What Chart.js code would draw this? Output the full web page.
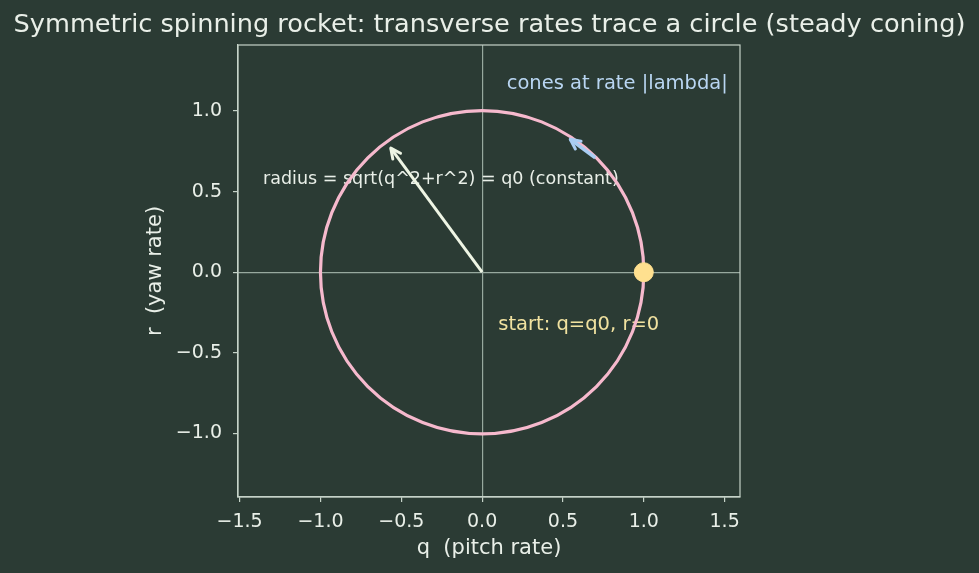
<!DOCTYPE html>
<html>
<head>
<meta charset="utf-8">
<script src="https://cdn.jsdelivr.net/npm/chart.js@4.4.1/dist/chart.umd.min.js"></script>
<style>
    html, body { margin: 0; padding: 0; background: #2b3b34; }
    #wrap { width: 979px; height: 573px; }
</style>
</head>
<body>
<div id="wrap"><canvas id="chart"></canvas></div>
<script>
// Datos de la figura
const q0 = 1.0;                                   // radio del circulo (q0)
const circleCenter = [{ x: 0, y: 0 }];
const startPoint = [{ x: q0, y: 0 }];
const radiusArrow = [{ x: 0, y: 0 }, { x: -0.565, y: 0.77 }];
const coneArrow = [{ x: 0.70, y: 0.71 }, { x: 0.545, y: 0.825 }];

const titleText = 'Symmetric spinning rocket: transverse rates trace a circle (steady coning)';
const xTitle = 'q  (pitch rate)';
const yTitle = 'r  (yaw rate)';
const notes = [
    { text: 'cones at rate |lambda|', x: 1.52, y: 1.17, align: 'right', color: '#b9d6f2', size: 19.5 },
    { text: 'radius = sqrt(q^2+r^2) = q0 (constant)', x: -1.355, y: 0.575, align: 'left', color: '#e9efe8', size: 17.5 },
    { text: 'start: q=q0, r=0', x: 0.10, y: -0.33, align: 'left', color: '#f1e2a0', size: 19.5 }
];

const FONT = "'DejaVu Sans', sans-serif";
const TEXT = '#e9efe8';
const SPINE = '#c5d3c8';

function fmt(v) {
    return v.toFixed(1).replace('-', '\u2212');
}

// Titulo centrado sobre todo el lienzo
const titlePlugin = {
    id: 'figTitle',
    afterDraw(chart) {
        const c = chart.ctx;
        c.save();
        c.fillStyle = TEXT;
        c.font = '25.6px ' + FONT;
        c.textAlign = 'center';
        c.textBaseline = 'middle';
        c.fillText(titleText, chart.width / 2, 25);
        c.restore();
    }
};

// Textos (debajo de las lineas) y marco de ejes
const notesPlugin = {
    id: 'notes',
    beforeDatasetsDraw(chart) {
        const c = chart.ctx, xs = chart.scales.x, ys = chart.scales.y;
        c.save();
        notes.forEach(function(n) {
            c.fillStyle = n.color;
            c.font = n.size + 'px ' + FONT;
            c.textAlign = n.align;
            c.textBaseline = 'middle';
            c.fillText(n.text, xs.getPixelForValue(n.x), ys.getPixelForValue(n.y));
        });
        c.restore();
    },
    afterDraw(chart) {
        const a = chart.chartArea, c = chart.ctx;
        c.save();
        c.strokeStyle = SPINE;
        c.lineWidth = 1.2;
        c.strokeRect(a.left, a.top, a.right - a.left, a.bottom - a.top);
        c.restore();
    }
};

// Puntas de flecha
function drawHead(chart, pts, color) {
    const c = chart.ctx, xs = chart.scales.x, ys = chart.scales.y;
    const x1 = xs.getPixelForValue(pts[0].x), y1 = ys.getPixelForValue(pts[0].y);
    const x2 = xs.getPixelForValue(pts[1].x), y2 = ys.getPixelForValue(pts[1].y);
    const ang = Math.atan2(y2 - y1, x2 - x1);
    const len = 11, spread = 0.45;
    c.save();
    c.strokeStyle = color;
    c.lineWidth = 3;
    c.lineCap = 'round';
    c.lineJoin = 'round';
    c.beginPath();
    c.moveTo(x2 - len * Math.cos(ang - spread), y2 - len * Math.sin(ang - spread));
    c.lineTo(x2, y2);
    c.lineTo(x2 - len * Math.cos(ang + spread), y2 - len * Math.sin(ang + spread));
    c.stroke();
    c.restore();
}

const arrowPlugin = {
    id: 'arrows',
    afterDatasetsDraw(chart) {
        drawHead(chart, radiusArrow, '#eef5e4');
        drawHead(chart, coneArrow, '#a9cdf3');
    }
};

function circleRadius(ctx) {
    const xs = ctx.chart.scales.x;
    const r = xs.getPixelForValue(q0) - xs.getPixelForValue(0);
    return isFinite(r) ? r : 0;
}

new Chart(document.getElementById('chart'), {
    type: 'scatter',
    data: {
        datasets: [
            {
                // circulo de radio q0 centrado en el origen
                data: circleCenter,
                pointRadius: circleRadius,
                pointBackgroundColor: 'rgba(0,0,0,0)',
                pointBorderColor: '#f6b9cd',
                pointBorderWidth: 3.2,
                order: 3
            },
            {
                data: radiusArrow,
                showLine: true,
                borderColor: '#eef5e4',
                borderWidth: 3,
                pointRadius: 0,
                order: 2
            },
            {
                data: coneArrow,
                showLine: true,
                borderColor: '#a9cdf3',
                borderWidth: 3.5,
                pointRadius: 0,
                order: 2
            },
            {
                data: startPoint,
                backgroundColor: '#ffe08f',
                borderColor: '#ffe08f',
                pointRadius: 9.5,
                order: 1
            }
        ]
    },
    options: {
        responsive: true,
        maintainAspectRatio: false,
        animation: false,
        events: [],
        layout: {
            autoPadding: false,
            padding: { left: 140, right: 239, top: 45, bottom: 0 }
        },
        plugins: {
            legend: { display: false },
            tooltip: { enabled: false }
        },
        scales: {
            x: {
                type: 'linear',
                min: -1.51,
                max: 1.595,
                afterFit: function(scale) { scale.height = 76; },
                border: { color: SPINE, width: 1.2 },
                grid: {
                    color: function(ctx) { return ctx.tick && ctx.tick.value === 0 ? '#97a99e' : 'rgba(0,0,0,0)'; },
                    tickColor: SPINE,
                    tickLength: 5,
                    lineWidth: 1.2
                },
                ticks: {
                    stepSize: 0.5,
                    includeBounds: false,
                    color: TEXT,
                    padding: 9,
                    font: { family: FONT, size: 19 },
                    callback: function(v) { return fmt(v); }
                },
                title: {
                    display: true,
                    text: xTitle,
                    color: TEXT,
                    font: { family: FONT, size: 21 },
                    padding: { top: 2, bottom: 12 }
                }
            },
            y: {
                type: 'linear',
                min: -1.395,
                max: 1.41,
                afterFit: function(scale) { scale.width = 98; },
                border: { color: SPINE, width: 1.2 },
                grid: {
                    color: function(ctx) { return ctx.tick && ctx.tick.value === 0 ? '#97a99e' : 'rgba(0,0,0,0)'; },
                    tickColor: SPINE,
                    tickLength: 5,
                    lineWidth: 1.2
                },
                ticks: {
                    stepSize: 0.5,
                    includeBounds: false,
                    color: TEXT,
                    padding: 11,
                    font: { family: FONT, size: 19 },
                    callback: function(v) { return fmt(v); }
                },
                title: {
                    display: true,
                    text: yTitle,
                    color: TEXT,
                    font: { family: FONT, size: 21 },
                    padding: { top: 3, bottom: 4 }
                }
            }
        }
    },
    plugins: [titlePlugin, notesPlugin, arrowPlugin]
});
</script>
</body>
</html>
